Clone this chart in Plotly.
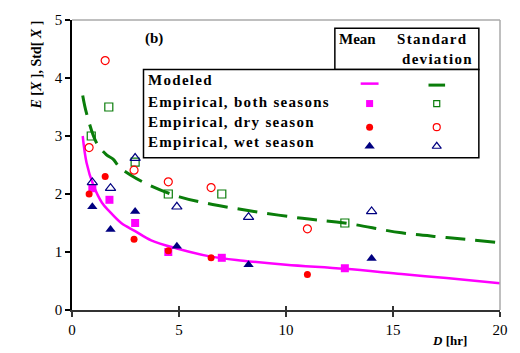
import plotly.graph_objects as go

# ---------------- data ----------------
x_model = [0.5, 0.68, 1.0, 1.4, 1.75, 2.3, 2.95, 3.7, 4.9, 6.5, 8.0, 10.0, 12.75, 15.4, 17.5, 20.0]
mean_model = [3.0, 2.54, 2.15, 1.85, 1.7, 1.5, 1.36, 1.2, 1.06, 0.92, 0.85, 0.78, 0.71, 0.62, 0.55, 0.46]
x_model_std = [0.5, 0.68, 1.15, 1.6, 1.92, 2.23, 2.77, 3.63, 5.02, 6.57, 8.5, 10.76, 12.74, 15.4, 17.5, 20.0]
std_model = [3.7, 3.39, 2.88, 2.68, 2.6, 2.46, 2.32, 2.15, 1.95, 1.82, 1.7, 1.58, 1.5, 1.33, 1.25, 1.16]

x_both = [0.95, 1.75, 2.95, 4.5, 7.0, 12.75]
mean_both = [2.1, 1.9, 1.5, 1.0, 0.9, 0.72]
x_both_std = [0.9, 1.72, 2.95, 4.5, 7.0, 12.75]
std_both = [3.0, 3.5, 2.55, 2.0, 2.0, 1.5]

x_dry = [0.8, 1.55, 2.9, 4.5, 6.5, 11.0]
mean_dry = [2.0, 2.3, 1.22, 1.02, 0.9, 0.61]
std_dry = [2.8, 4.3, 2.41, 2.21, 2.11, 1.4]

x_wet = [0.95, 1.8, 2.95, 4.9, 8.25, 14.0]
mean_wet = [1.78, 1.39, 1.7, 1.1, 0.78, 0.89]
std_wet = [2.2, 2.1, 2.62, 1.78, 1.6, 1.7]

x_ticks = [0, 5, 10, 15, 20]
y_ticks = [0, 1, 2, 3, 4, 5]

row_labels = ["Modeled", "Empirical, both seasons", "Empirical, dry season", "Empirical, wet season"]

# ---------------- styles ----------------
MAG = "#ff00ff"
RED = "#ff0000"
NAVY = "#000080"
GRN = "#0a7d0a"
SERIF = "Liberation Serif, Times New Roman, serif"

W, H = 520, 353
L, R, T, B = 72, 17, 16, 43
PW, PH = W - L - R, H - T - B


def px(x):
    return (x - L) / PW


def py(y):
    return (H - B - y) / PH


fig = go.Figure()

# modeled curves
fig.add_trace(go.Scatter(x=x_model, y=mean_model, mode="lines", line=dict(color=MAG, width=2.5, shape="spline"), showlegend=False))
fig.add_trace(go.Scatter(x=x_model_std, y=std_model, mode="lines", line=dict(color=GRN, width=3, dash="20px,10px", shape="spline"), showlegend=False))

# empirical means
fig.add_trace(go.Scatter(x=x_both, y=mean_both, mode="markers", marker=dict(symbol="square", size=8, color=MAG), showlegend=False))
fig.add_trace(go.Scatter(x=x_dry, y=mean_dry, mode="markers", marker=dict(symbol="circle", size=7, color=RED), showlegend=False))
fig.add_trace(go.Scatter(x=x_wet, y=mean_wet, mode="markers", marker=dict(symbol="triangle-up", size=9, color=NAVY), showlegend=False))
# empirical std
fig.add_trace(go.Scatter(x=x_both_std, y=std_both, mode="markers", marker=dict(symbol="square-open", size=8, color=GRN, line=dict(width=1.2)), showlegend=False))
fig.add_trace(go.Scatter(x=x_dry, y=std_dry, mode="markers", marker=dict(symbol="circle-open", size=8, color=RED, line=dict(width=1.2)), showlegend=False))
fig.add_trace(go.Scatter(x=x_wet, y=std_wet, mode="markers", marker=dict(symbol="triangle-up-open", size=9, color=NAVY, line=dict(width=1.2)), showlegend=False))

# ---------------- legend table ----------------
bx0, bx1, bxm = 144, 481.7, 336.7
by0, bym, by1 = 24.3, 66.3, 155.7
shapes = [
    dict(type="rect", xref="paper", yref="paper", x0=px(bxm), x1=px(bx1), y0=py(bym), y1=py(by0),
         line=dict(color="black", width=1.5), fillcolor="white", layer="below"),
    dict(type="rect", xref="paper", yref="paper", x0=px(bx0), x1=px(bx1), y0=py(by1), y1=py(bym),
         line=dict(color="black", width=1.5), fillcolor="white", layer="below"),
]
# legend lines
mean_cx, std_cx = 371.7, 439.3
shapes.append(dict(type="line", xref="paper", yref="paper", x0=px(362.7), x1=px(380.7), y0=py(80.5), y1=py(80.5),
                   line=dict(color=MAG, width=2.5), layer="above"))
shapes.append(dict(type="line", xref="paper", yref="paper", x0=px(431), x1=px(447.7), y0=py(82), y1=py(82),
                   line=dict(color=GRN, width=3), layer="above"))

row_marker_y = [100.7, 124.7, 144]
mean_syms = [("square", MAG, 7), ("circle", RED, 7), ("triangle-up", NAVY, 9)]
std_syms = [("square-open", GRN, 6), ("circle-open", RED, 7), ("triangle-up-open", NAVY, 8)]
for (s, c, sz), yy in zip(mean_syms, row_marker_y):
    fig.add_trace(go.Scatter(x=[px(mean_cx)], y=[py(yy)], xaxis="x2", yaxis="y2", mode="markers",
                             marker=dict(symbol=s, size=sz, color=c), showlegend=False, cliponaxis=False))
for (s, c, sz), yy in zip(std_syms, row_marker_y):
    fig.add_trace(go.Scatter(x=[px(std_cx)], y=[py(yy)], xaxis="x2", yaxis="y2", mode="markers",
                             marker=dict(symbol=s, size=sz, color=c, line=dict(width=1.2)), showlegend=False, cliponaxis=False))

ls = "letter-spacing:1.3px"
annotations = []
for lab, yy in zip(row_labels, [77, 98.7, 119.5, 140]):
    annotations.append(dict(xref="paper", yref="paper", x=px(147), y=py(yy), xanchor="left", yanchor="middle",
                            text=f"<span style='{ls}'><b>{lab}</b></span>", showarrow=False,
                            font=dict(family=SERIF, size=15, color="black")))
annotations += [
    dict(xref="paper", yref="paper", x=px(144), y=py(35), xanchor="left", yanchor="middle", text="<b>(b)</b>",
         showarrow=False, font=dict(family=SERIF, size=15, color="black")),
    dict(xref="paper", yref="paper", x=px(360), y=py(35), xanchor="center", yanchor="middle", text="<b>Mean</b>",
         showarrow=False, font=dict(family=SERIF, size=15, color="black")),
    dict(xref="paper", yref="paper", x=px(435), y=py(35), xanchor="center", yanchor="middle",
         text=f"<span style='{ls}'><b>Standard</b></span>", showarrow=False, font=dict(family=SERIF, size=15, color="black")),
    dict(xref="paper", yref="paper", x=px(440), y=py(56), xanchor="center", yanchor="middle",
         text=f"<span style='{ls}'><b>deviation</b></span>", showarrow=False, font=dict(family=SERIF, size=15, color="black")),
    # y axis title
    dict(xref="paper", yref="paper", x=px(36), y=py(62), xanchor="center", yanchor="middle", textangle=-90,
         text="<b><i>E</i> [<i>X</i> ], Std[ <i>X</i> ]</b>", showarrow=False, font=dict(family=SERIF, size=14, color="black")),
    # x axis title (bottom right, kept inside the page)
    dict(xref="paper", yref="paper", x=px(452), y=py(351), xanchor="center", yanchor="bottom",
         text="<b><i>D</i> [hr]</b>", showarrow=False, font=dict(family=SERIF, size=13, color="black")),
]

fig.update_layout(
    width=W, height=H,
    margin=dict(l=L, r=R, t=T, b=B, pad=0),
    paper_bgcolor="white", plot_bgcolor="white",
    shapes=shapes, annotations=annotations,
    showlegend=False,
    xaxis=dict(range=[0, 20], tickvals=x_ticks, ticktext=[str(v) for v in x_ticks], showgrid=False, zeroline=False,
               showline=True, linecolor="#333", linewidth=1.5, mirror=False,
               ticks="outside", ticklen=5, tickcolor="#333", tickwidth=1.5,
               tickfont=dict(family=SERIF, size=15, color="black")),
    yaxis=dict(range=[0, 5], tickvals=y_ticks, ticktext=[str(v) for v in y_ticks], showgrid=False, zeroline=False,
               showline=True, linecolor="black", linewidth=1.5,
               ticks="outside", ticklen=5, tickcolor="black", tickwidth=1.5,
               tickfont=dict(family=SERIF, size=15, color="black")),
    xaxis3=dict(overlaying="x", range=[0, 20], tickvals=x_ticks, showticklabels=False, ticks="inside", ticklen=4,
                tickcolor="#333", tickwidth=1.5, showgrid=False, zeroline=False, showline=False),
    xaxis2=dict(overlaying="x", range=[0, 1], visible=False),
    yaxis2=dict(overlaying="y", range=[0, 1], visible=False),
)
# a dummy trace to make xaxis3 render its inside ticks
fig.add_trace(go.Scatter(x=[None], y=[None], xaxis="x3", yaxis="y", showlegend=False, hoverinfo="skip"))

# top and right gray frame
fig.add_shape(type="line", xref="paper", yref="paper", x0=0, x1=1, y0=1, y1=1, line=dict(color="#aaaaaa", width=1.5))
fig.add_shape(type="line", xref="paper", yref="paper", x0=1, x1=1, y0=0, y1=1, line=dict(color="#aaaaaa", width=1.5))

fig.write_html("out.html")
